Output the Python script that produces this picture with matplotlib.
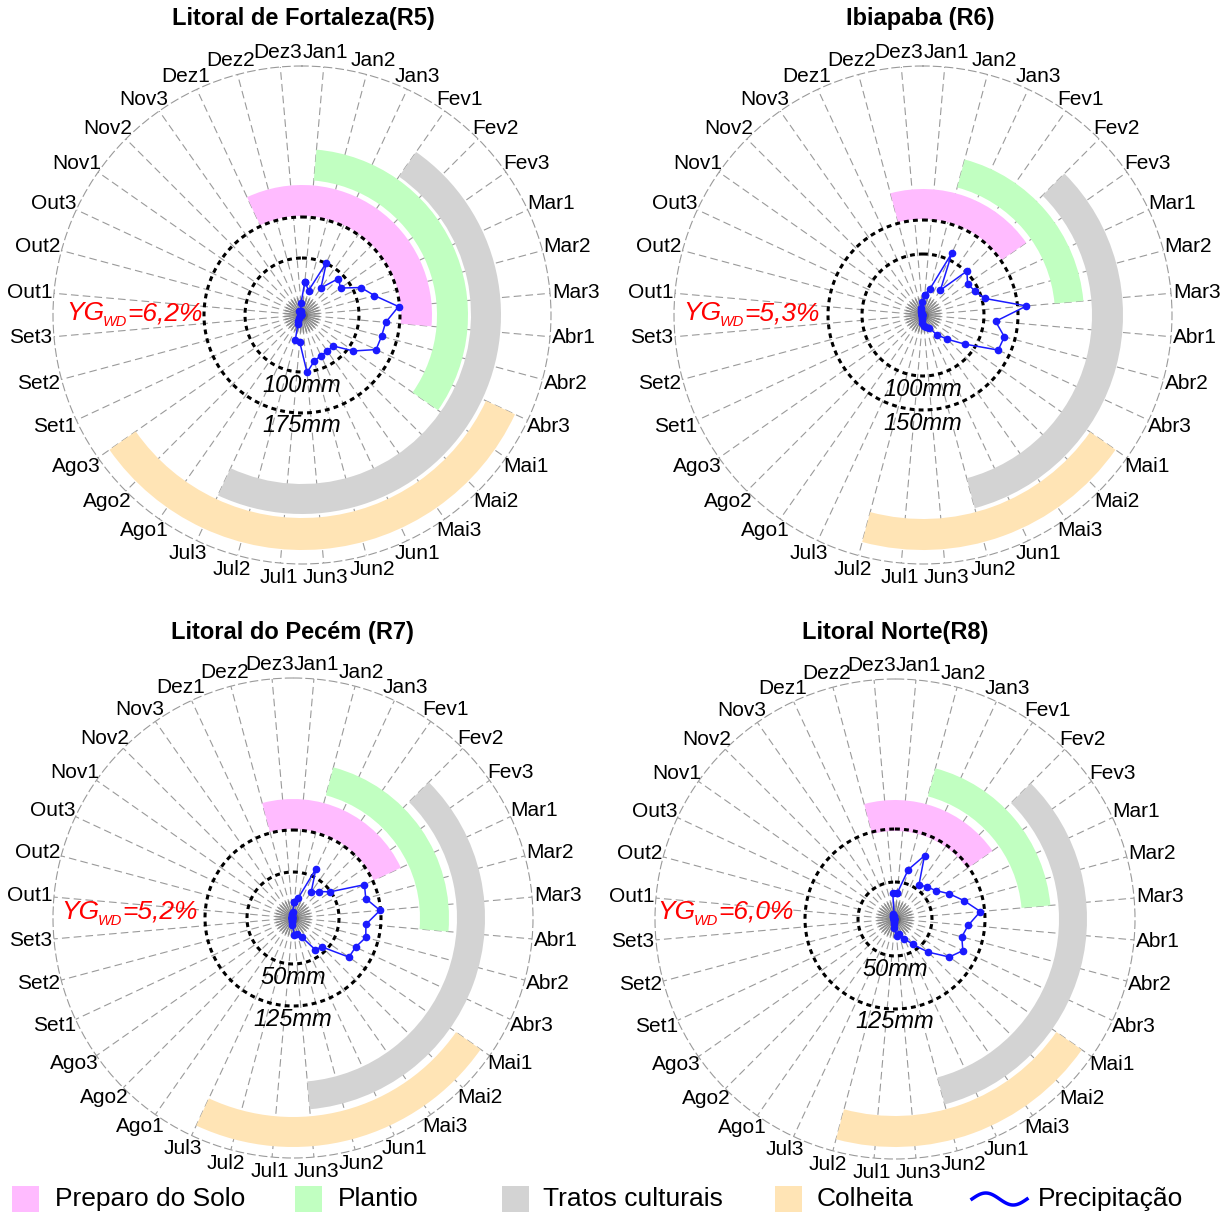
import numpy as np
import matplotlib
matplotlib.use('Agg')
import matplotlib.pyplot as plt
from matplotlib.patches import Rectangle
from matplotlib.lines import Line2D

plt.rcParams['font.family'] = ['Liberation Sans', 'DejaVu Sans']
plt.rcParams['lines.scale_dashes'] = False

dekads = ['Jan1', 'Jan2', 'Jan3', 'Fev1', 'Fev2', 'Fev3', 'Mar1', 'Mar2', 'Mar3',
          'Abr1', 'Abr2', 'Abr3', 'Mai1', 'Mai2', 'Mai3', 'Jun1', 'Jun2', 'Jun3',
          'Jul1', 'Jul2', 'Jul3', 'Ago1', 'Ago2', 'Ago3', 'Set1', 'Set2', 'Set3',
          'Out1', 'Out2', 'Out3', 'Nov1', 'Nov2', 'Nov3', 'Dez1', 'Dez2', 'Dez3']

# precipitation per dekad (mm)
prec_r5 = [60, 45, 103, 59, 92, 84, 116, 134, 173, 150, 147, 146, 112, 78, 79, 80, 85, 103,
           48, 46, 17, 12, 8, 4, 2, 2, 2, 1, 1, 2, 3, 5, 8, 4, 8, 21]
prec_r6 = [32, 43, 108, 48, 98, 86, 90, 101, 164, 115, 133, 131, 80, 54, 38, 22, 19, 17,
           12, 8, 5, 3, 2, 1, 1, 1, 1, 1, 1, 2, 2, 3, 5, 8, 12, 21]
prec_r7 = [23, 30, 77, 45, 53, 65, 112, 107, 124, 104, 107, 98, 97, 58, 55, 30, 24, 24,
           10, 6, 4, 3, 2, 1, 1, 1, 1, 1, 1, 2, 2, 3, 3, 4, 6, 8]
prec_r8 = [36, 71, 97, 58, 63, 69, 83, 99, 119, 102, 96, 104, 92, 65, 43, 30, 22, 24,
           12, 7, 4, 3, 2, 1, 1, 1, 1, 1, 1, 2, 2, 3, 5, 8, 4, 36]

titles = ['Litoral de Fortaleza(R5)', 'Ibiapaba (R6)', 'Litoral do Pecém (R7)', 'Litoral Norte(R8)']
yg_wd = ['=6,2%', '=5,3%', '=5,2%', '=6,0%']
ref_labels = [('100mm', '175mm'), ('100mm', '150mm'), ('50mm', '125mm'), ('50mm', '125mm')]
ref_mm = [175, 150, 125, 125]

# crop calendar: first and last dekad of each activity
preparo = [('Dez1', 'Abr1'), ('Dez2', 'Fev3'), ('Dez2', 'Mar1'), ('Dez2', 'Fev3')]
plantio = [('Jan1', 'Mai1'), ('Jan2', 'Mar3'), ('Jan2', 'Abr1'), ('Jan2', 'Mar3')]
tratos = [('Fev1', 'Jul3'), ('Fev2', 'Jun2'), ('Fev2', 'Jun3'), ('Fev2', 'Jun2')]
colheita = [('Abr3', 'Ago3'), ('Mai1', 'Jul2'), ('Mai1', 'Jul3'), ('Mai1', 'Jul2')]

activities = ['Preparo do Solo', 'Plantio', 'Tratos culturais', 'Colheita']
act_colors = ['#FFBBFF', '#C1FFC1', '#D3D3D3', '#FFE4B5']

W, H, DPI = 1232, 1213, 100
PT = 72 / DPI
fig = plt.figure(figsize=(W / DPI, H / DPI), dpi=DPI)

# panel geometry in pixels: centre, rim radius, reference circles, band radii
centres = [(302, 315), (923, 315), (293, 918), (895, 919)]
rims = [249, 249, 240, 240]
circ_r = [(57, 98), (61, 95), (46, 88), (37, 90)]
bands_r = [[(99, 130), (135, 166), (169, 199), (203, 235)],
           [(96, 126), (132, 161), (169, 200), (204, 235)],
           [(89, 119), (127, 156), (164, 192), (199, 229)],
           [(88, 119), (127, 156), (164, 192), (197, 228)]]
title_xy = [(303, 18), (920, 18), (292, 633), (895, 633)]
yg_off = [(-167, 2), (-171, 2), (-163, 6), (-169, 7)]

gridc = '#9a9a9a'
blue = '#1a1aff'
theta = np.radians(5 + 10 * np.arange(36))
idx = {d: i for i, d in enumerate(dekads)}
all_prec = [prec_r5, prec_r6, prec_r7, prec_r8]
schedules = [preparo, plantio, tratos, colheita]

tick_texts = []
yg_texts = []
for p in range(4):
    cx, cy = centres[p]
    R = rims[p]
    ax = fig.add_axes([(cx - R) / W, 1 - (cy + R) / H, 2 * R / W, 2 * R / H], projection='polar')
    ax.set_theta_zero_location('N')
    ax.set_theta_direction(-1)
    ax.set_ylim(0, R)
    ax.set_xticks([])
    ax.set_yticks([])
    ax.grid(False)
    ax.patch.set_alpha(0)
    ax.spines['polar'].set_linestyle((0, (5.5, 3)))
    ax.spines['polar'].set_color(gridc)
    ax.spines['polar'].set_linewidth(0.8)

    for th in theta:
        ax.plot([th, th], [0, R], color=gridc, lw=0.8, ls=(0, (5.5, 3)), zorder=0.5)
        ax.plot([th, th], [6, 17], color='#8c8c8c', lw=1.1, zorder=0.6)
    ax.scatter([0], [0], s=60, color='#6e6e6e', zorder=0.7, lw=0)

    for a, sched in enumerate(schedules):
        s, e = sched[p]
        t0, t1 = theta[idx[s]], theta[idx[e]]
        if t1 < t0:
            t1 += 2 * np.pi
        r0, r1 = bands_r[p][a]
        ax.bar((t0 + t1) / 2, r1 - r0, width=t1 - t0, bottom=r0,
               color=act_colors[a], edgecolor='none', zorder=2)

    tc = np.linspace(0, 2 * np.pi, 400)
    for rr in circ_r[p]:
        ax.plot(tc, np.full_like(tc, rr), color='black', lw=2.2, ls=(0, (3.5, 3)), zorder=3)
    for rr, lab in zip(circ_r[p], ref_labels[p]):
        ax.text(np.pi, rr + 13, lab, ha='center', va='center', fontsize=17,
                style='italic', zorder=6)

    k = circ_r[p][1] / ref_mm[p]
    rp = np.array(all_prec[p]) * k
    ax.plot(np.append(theta, theta[0]), np.append(rp, rp[0]), color=blue, lw=1.1,
            marker='o', ms=4.5, zorder=5)

    # YG_WD annotation built from three pieces (main, subscript, value)
    dx, dy = yg_off[p]
    anchor = (0.5 + dx / (2 * R), 0.5 + dy / (2 * R))
    parts = []
    for txt, fs in (('YG', 19), ('WD', 10.5), (yg_wd[p], 19)):
        parts.append(ax.annotate(txt, xy=anchor, xycoords='axes fraction', xytext=(0, 0),
                                 textcoords='offset points', color='red', fontsize=fs,
                                 style='italic', ha='left', va='baseline', zorder=6))
    yg_texts.append(parts)

    for th, lab in zip(theta, dekads):
        t = ax.annotate(lab, xy=(th, R), xytext=(0, 0), textcoords='offset points',
                        ha='center', va='center', fontsize=15, annotation_clip=False)
        tick_texts.append((t, th))

    tx, ty = title_xy[p]
    fig.text(tx / W, 1 - ty / H, titles[p], ha='center', va='center', fontsize=17,
             fontweight='bold')

fig.canvas.draw()
rend = fig.canvas.get_renderer()

# push dekad labels outside the rim (hjust/vjust follow the angle)
for t, th in tick_texts:
    bb = t.get_window_extent(rend)
    ox = (2 + bb.width / 2) * np.sin(th)
    oy = (5 + bb.height / 2) * np.cos(th)
    t.set_position((ox * PT, oy * PT))

for parts in yg_texts:
    ws = [t.get_window_extent(rend).width for t in parts]
    x0 = -sum(ws) / 2
    base = -7.0
    parts[0].set_position((x0 * PT, base * PT))
    parts[1].set_position(((x0 + ws[0] - 1) * PT, (base - 6) * PT))
    parts[2].set_position(((x0 + ws[0] + ws[1] - 1) * PT, base * PT))

# legend
leg_sq = [12, 295, 502, 775]
leg_tx = [55, 338, 543, 817]
for a in range(4):
    fig.add_artist(Rectangle((leg_sq[a] / W, 1 - 1212 / H), 27 / W, 26 / H,
                             transform=fig.transFigure, color=act_colors[a], lw=0))
    fig.text(leg_tx[a] / W, 1 - 1199 / H, activities[a], va='center', fontsize=19)
tw = np.linspace(0, 1, 60)
fig.add_artist(Line2D((972 + 55 * tw) / W, 1 - (1199 - 6 * np.sin(2 * np.pi * tw)) / H,
                      transform=fig.transFigure, color='#0000ff', lw=2.5))
fig.text(1038 / W, 1 - 1199 / H, 'Precipitação', va='center', fontsize=19)

fig.savefig('out.png', dpi=DPI)
